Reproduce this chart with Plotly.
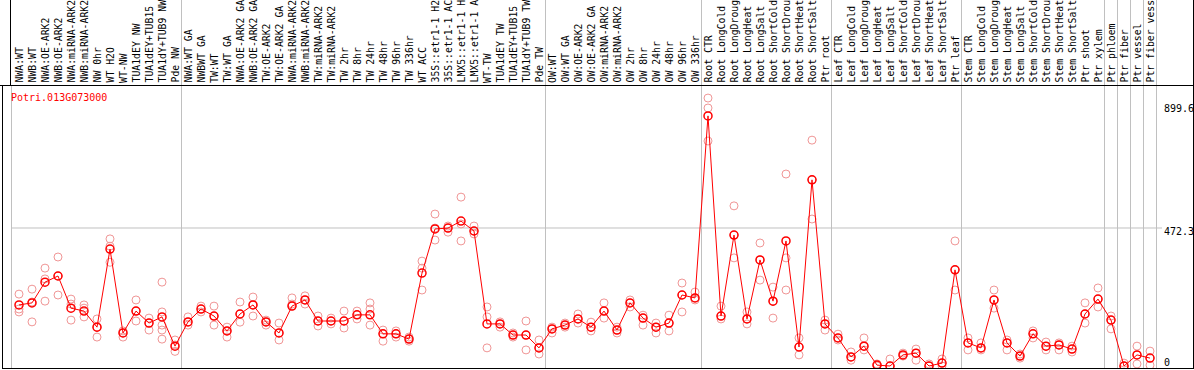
import plotly.graph_objects as go

title = "Potri.013G073000"

labels = ["NWA:WT", "NWB:WT", "NWA:OE-ARK2", "NWB:OE-ARK2", "NWA:miRNA-ARK2", "NWB:miRNA-ARK2",
          "NW 0hr", "WT H2O", "WT-NW", "TUA1dEY NW", "TUA1dEY+TUB15", "TUA1dY+TUB9 NW", "Pde NW",
          "NWA:WT GA", "NWBWT GA", "TW:WT", "TW:WT GA", "NWA:OE-ARK2 GA", "NWB:OE-ARK2 GA",
          "TW:OE-ARK2", "TW:OE-ARK2 GA", "NWA:miRNA-ARK2", "NWB:miRNA-ARK2", "TW:miRNA-ARK2",
          "TW:miRNA-ARK2", "TW 2hr", "TW 8hr", "TW 24hr", "TW 48hr", "TW 96hr", "TW 336hr",
          "WT ACC", "35S::etr1-1 H2", "35S::etr1-1 AC", "LMX5::etr1-1 H", "LMX5::etr1-1 A",
          "WT-TW", "TUA1dEY TW", "TUA1dEY+TUB15", "TUA1dY+TUB9 TW", "Pde TW",
          "OW:WT", "OW:WT GA", "OW:OE-ARK2", "OW:OE-ARK2 GA", "OW:miRNA-ARK2", "OW:miRNA-ARK2",
          "OW 2hr", "OW 8hr", "OW 24hr", "OW 48hr", "OW 96hr", "OW 336hr",
          "Root CTR", "Root LongCold", "Root LongDroug", "Root LongHeat", "Root LongSalt",
          "Root ShortCold", "Root ShortDrou", "Root ShortHeat", "Root ShortSalt", "Ptr root",
          "Leaf CTR", "Leaf LongCold", "Leaf LongDroug", "Leaf LongHeat", "Leaf LongSalt",
          "Leaf ShortCold", "Leaf ShortDrou", "Leaf ShortHeat", "Leaf ShortSalt", "Ptr leaf",
          "Stem CTR", "Stem LongCold", "Stem LongDroug", "Stem LongHeat", "Stem LongSalt",
          "Stem ShortCold", "Stem ShortDrou", "Stem ShortHeat", "Stem ShortSalt", "Ptr shoot",
          "Ptr xylem", "Ptr phloem", "Ptr fiber", "Ptr vessel", "Ptr fiber vess"]

means = [209, 216, 287, 308, 198, 188, 133, 400, 113, 188, 147, 168, 68,
         151, 195, 171, 120, 178, 209, 151, 113, 205, 226, 154, 154, 154, 175, 175, 110, 110, 92,
         318, 469, 472, 496, 462, 144, 144, 106, 106, 62,
         127, 140, 161, 133, 188, 123, 216, 164, 133, 147, 243, 233,
         856, 171, 448, 161, 363, 222, 428, 65, 637, 144,
         96, 31, 68, 3, 0, 38, 44, 0, 10, 329,
         79, 62, 226, 79, 34, 110, 68, 72, 58, 178,
         229, 157, 0, 38, 27]

replicates = [[246, 195, 185], [263, 219, 151], [335, 298, 222], [373, 308, 243], [229, 212, 157],
              [209, 198, 168], [161, 133, 99], [435, 410, 355], [120, 113, 99], [226, 188, 154],
              [164, 147, 123], [287, 185, 140, 123, 92], [89, 72, 50],
              [168, 151, 140], [205, 195, 185], [205, 171, 140], [133, 120, 99], [219, 178, 150],
              [236, 209, 171], [157, 151, 140], [147, 113, 89], [233, 205, 212], [240, 226, 212],
              [171, 154, 137], [164, 154, 144], [188, 154, 130], [188, 175, 161], [216, 195, 140],
              [123, 110, 85], [120, 110, 99], [99, 92, 85], [359, 335, 260], [520, 472, 431],
              [479, 472, 458], [578, 486, 428], [479, 462, 452], [168, 202, 62], [151, 144, 133],
              [113, 106, 99], [154, 106, 55], [89, 62, 41],
              [133, 127, 113], [147, 140, 133], [178, 161, 147], [150, 133, 120], [216, 188, 164],
              [133, 123, 113], [226, 216, 202], [174, 164, 140], [147, 133, 113], [174, 147, 120],
              [284, 243, 185], [253, 233, 226],
              [917, 883, 770], [205, 171, 161], [548, 448, 370], [185, 161, 144], [421, 363, 294],
              [270, 222, 164], [657, 370, 260], [96, 65, 38], [773, 637, 503], [157, 144, 123],
              [109, 96, 89], [48, 31, 20], [96, 68, 55], [7, 3, 0], [24, 0, 0], [44, 38, 34],
              [58, 44, 20], [7, 0, 0], [24, 10, 0], [428, 329, 260],
              [96, 79, 55], [79, 62, 55], [260, 226, 198], [89, 79, 55], [41, 34, 27],
              [120, 110, 96], [82, 68, 55], [79, 72, 55], [68, 58, 48], [216, 178, 147],
              [267, 229, 202], [171, 157, 127], [10, 0, 0], [68, 38, 7], [51, 27, 3]]

group_ends = [12, 40, 52, 62, 72, 83, 84, 85, 86, 87]
tick_values = [899.6, 472.3, 0]
tick_texts = ["899.6", "472.3", "0"]

W, H = 1194, 370
FONT = "DejaVu Sans Mono"
RED = "#ff0000"
PINK = "rgb(240,150,150)"

# pixel geometry
PX_L, PX_R = 2, 1193
PY_T, PY_B = 85, 368
X0, DX = 19, 13
xr = [(PX_L - X0) / DX, (PX_R - X0) / DX]
Y0PX, KPX = 366, 0.2922
yr = [(Y0PX - PY_B) / KPX, (Y0PX - PY_T) / KPX]

xs = list(range(len(labels)))
rx, ry = [], []
for i, reps in enumerate(replicates):
    for v in reps:
        rx.append(i)
        ry.append(v)

fig = go.Figure()
fig.add_trace(go.Scatter(x=rx, y=ry, mode="markers",
                         marker=dict(symbol="circle-open", size=8, color=PINK,
                                     line=dict(width=1, color=PINK)),
                         hoverinfo="skip", showlegend=False))
fig.add_trace(go.Scatter(x=xs, y=means, mode="lines+markers",
                         line=dict(color=RED, width=1),
                         marker=dict(symbol="circle-open", size=8, color=RED,
                                     line=dict(width=1.5, color=RED)),
                         showlegend=False))


def px(x):
    return x / W


def py(y):
    return (H - y) / H


shapes = []
# gray separators
shapes.append(dict(type="line", xref="paper", yref="paper", x0=px(11.5), x1=px(11.5),
                   y0=py(PY_B), y1=py(PY_T), line=dict(color="#c0c0c0", width=1), layer="below"))
for g in group_ends:
    shapes.append(dict(type="line", xref="x", yref="paper", x0=g + 0.5, x1=g + 0.5,
                       y0=py(PY_B), y1=1, line=dict(color="#c0c0c0", width=1), layer="below"))
# horizontal gridline at middle tick
shapes.append(dict(type="line", xref="paper", yref="y", x0=px(11.5), x1=px(1162),
                   y0=tick_values[1], y1=tick_values[1],
                   line=dict(color="#c0c0c0", width=1), layer="below"))
# black frame
blk = dict(color="black", width=1)
shapes += [
    dict(type="line", xref="paper", yref="paper", x0=0, x1=1, y0=py(PY_T + 0.5), y1=py(PY_T + 0.5), line=blk),
    dict(type="line", xref="paper", yref="paper", x0=px(PX_L), x1=px(PX_R + 1), y0=py(PY_B + 0.5), y1=py(PY_B + 0.5), line=blk),
    dict(type="line", xref="paper", yref="paper", x0=px(PX_L + 0.5), x1=px(PX_L + 0.5), y0=py(PY_B + 0.5), y1=py(PY_T), line=blk),
    dict(type="line", xref="paper", yref="paper", x0=px(10.5), x1=px(10.5), y0=py(PY_T), y1=1, line=blk),
    dict(type="line", xref="paper", yref="paper", x0=px(PX_R + 0.5), x1=px(PX_R + 0.5), y0=py(PY_B + 0.5), y1=1, line=blk),
]

annotations = []
for i, lab in enumerate(labels):
    annotations.append(dict(x=i, xref="x", y=py(84), yref="paper", text=lab, showarrow=False,
                            textangle=-90, xanchor="center", yanchor="bottom", borderpad=0,
                            font=dict(family=FONT, size=9.8, color="black")))
for v, t, s in zip(tick_values, tick_texts, [-5, -4, 4]):
    annotations.append(dict(x=px(1163), xref="paper", y=v, yref="y", yshift=s, text=t,
                            showarrow=False, xanchor="left", yanchor="middle", borderpad=0,
                            font=dict(family=FONT, size=10, color="black")))
annotations.append(dict(x=px(10), xref="paper", y=py(97), yref="paper", text=title,
                        showarrow=False, xanchor="left", yanchor="middle", borderpad=0,
                        font=dict(family=FONT, size=10, color=RED)))

fig.update_layout(
    width=W, height=H, margin=dict(l=0, r=0, t=0, b=0, pad=0),
    paper_bgcolor="white", plot_bgcolor="white",
    xaxis=dict(range=xr, domain=[px(PX_L), px(PX_R)], visible=False, showgrid=False, zeroline=False),
    yaxis=dict(range=yr, domain=[py(PY_B), py(PY_T)], visible=False, showgrid=False, zeroline=False),
    shapes=shapes, annotations=annotations, showlegend=False,
)

fig.write_html("out.html", config={"displayModeBar": False},
               post_script="document.body.style.margin='0';document.body.style.overflow='hidden';")
